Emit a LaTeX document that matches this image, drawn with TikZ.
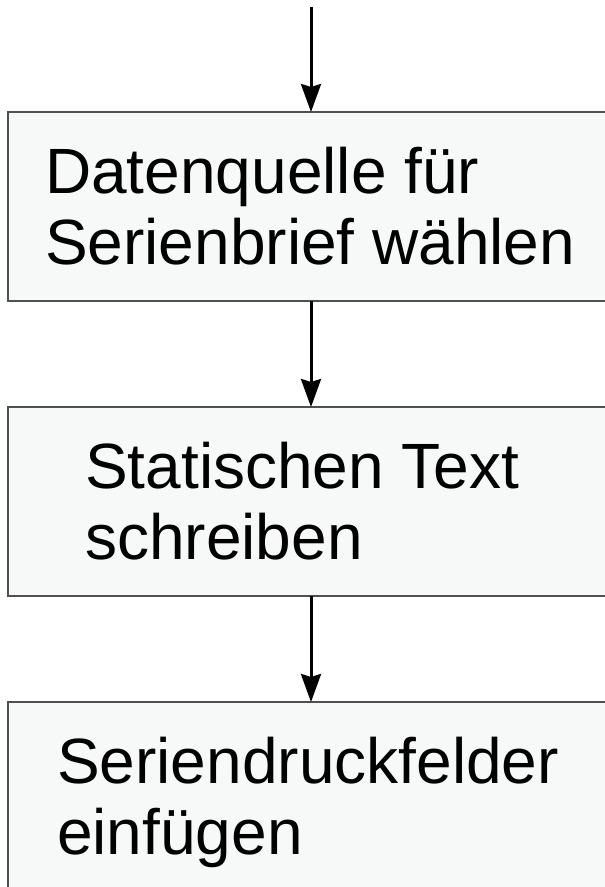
\documentclass[tikz,border=0pt]{standalone}
\usepackage{fontspec}
\setmainfont{Liberation Sans}
\usetikzlibrary{arrows.meta}
\definecolor{boxfill}{HTML}{F7F8F8}
\definecolor{boxdraw}{HTML}{505050}
\begin{document}
\begin{tikzpicture}[x=1pt,y=-1pt,
  stepbox/.style={draw=boxdraw, line width=1.5pt, fill=boxfill, rectangle, inner sep=0pt},
  steptext/.style={anchor=base west, inner sep=0pt, font=\fontsize{64}{71}\selectfont},
  flow/.style={line width=3pt, -{Stealth[length=28pt, width=20pt, inset=3pt]}}]
\clip (0,0) rectangle (605,887);
\fill[white] (0,0) rectangle (605,887);
% boxes
\draw[stepbox] (8,112) rectangle (640,301);
\draw[stepbox] (8,407) rectangle (640,596);
\draw[stepbox] (8,702) rectangle (640,900);
\node[rectangle, inner sep=0pt, minimum width=632pt, minimum height=189pt, anchor=north west] (b1) at (8,112) {};
\node[rectangle, inner sep=0pt, minimum width=632pt, minimum height=189pt, anchor=north west] (b2) at (8,407) {};
\node[rectangle, inner sep=0pt, minimum width=632pt, minimum height=198pt, anchor=north west] (b3) at (8,702) {};
% texts
\node[steptext] (t1a) at (45,193) {Datenquelle für};
\node[steptext] (t1b) at (45,264) {Serienbrief wählen};
\node[steptext] (t2a) at (85,488) {Statischen Text};
\node[steptext] (t2b) at (85,559) {schreiben};
\node[steptext] (t3a) at (57,783) {Seriendruckfelder};
\node[steptext] (t3b) at (57,854) {einfügen};
% arrows
\coordinate (start) at (311,7);
\draw[flow] (start) -- (start |- b1.north);
\draw[flow] (start |- b1.south) -- (start |- b2.north);
\draw[flow] (start |- b2.south) -- (start |- b3.north);
\end{tikzpicture}
\end{document}
